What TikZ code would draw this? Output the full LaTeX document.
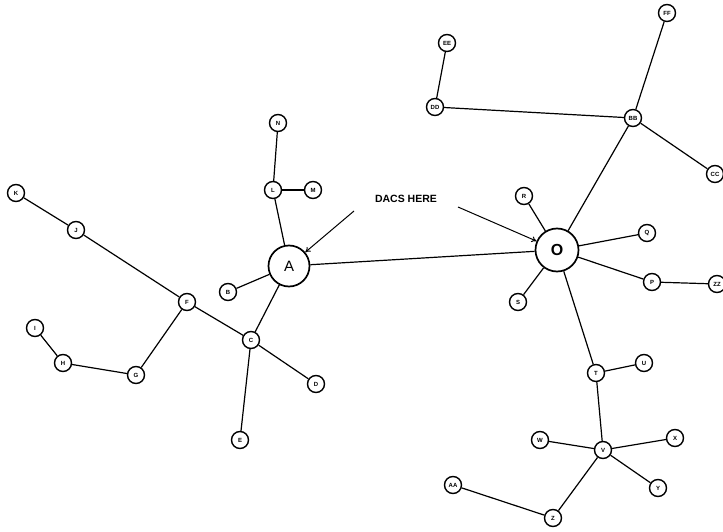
\documentclass[tikz,border=0pt]{standalone}
\usepackage{fontspec}
\setmainfont{Liberation Sans}
\setsansfont{Liberation Sans}
\usetikzlibrary{arrows.meta}
\tikzset{
  sn/.style={circle, draw, line width=1.4pt, minimum size=17pt, inner sep=0pt, fill=white, font=\bfseries\fontsize{6}{6}\selectfont},
  bn/.style={circle, draw, line width=1.7pt, minimum size=41pt, inner sep=0pt, fill=white, font=\fontsize{15}{15}\selectfont},
  edge/.style={line width=1.2pt},
  arr/.style={line width=1pt, -{To[length=5pt,width=6pt]}},
}
\begin{document}
\begin{tikzpicture}[x=1pt,y=-1pt]
\useasboundingbox (0,0) rectangle (723,532);
% big nodes
\node[bn] (A) at (289,266) {A};
\node[bn, minimum size=43pt, font=\bfseries\fontsize{16}{16}\selectfont] (O) at (557,250) {O};
% small nodes
\node[sn] (B) at (228,292) {B};
\node[sn] (C) at (251,340) {C};
\node[sn] (D) at (316,384) {D};
\node[sn] (E) at (240,440) {E};
\node[sn] (F) at (187,302) {F};
\node[sn] (G) at (136,375) {G};
\node[sn] (H) at (63,363) {H};
\node[sn] (I) at (35,328) {I};
\node[sn] (J) at (76,230) {J};
\node[sn] (K) at (16,193) {K};
\node[sn] (L) at (273,190) {L};
\node[sn] (M) at (313,190) {M};
\node[sn] (N) at (278,123) {N};
\node[sn] (P) at (652,282) {P};
\node[sn] (Q) at (647,233) {Q};
\node[sn] (R) at (524,196) {R};
\node[sn] (S) at (518,302) {S};
\node[sn] (T) at (596,373) {T};
\node[sn] (U) at (644,363) {U};
\node[sn] (V) at (603,450) {V};
\node[sn] (W) at (540,440) {W};
\node[sn] (X) at (675,438) {X};
\node[sn] (Y) at (658,488) {Y};
\node[sn] (Z) at (553,518) {Z};
\node[sn] (AA) at (453,485) {AA};
\node[sn] (BB) at (633,118) {BB};
\node[sn] (CC) at (715,174) {CC};
\node[sn] (DD) at (435,107) {DD};
\node[sn] (EE) at (447,43) {EE};
\node[sn] (FF) at (667,13) {FF};
\node[sn] (ZZ) at (717,284) {ZZ};
% edges
\draw[edge] (K) -- (J);
\draw[edge] (J) -- (F);
\draw[edge] (F) -- (C);
\draw[edge] (F) -- (G);
\draw[edge] (G) -- (H);
\draw[edge] (H) -- (I);
\draw[edge] (C) -- (A);
\draw[edge] (C) -- (D);
\draw[edge] (C) -- (E);
\draw[edge] (A) -- (B);
\draw[edge] (A) -- (L);
\draw[edge] (L) -- (N);
\draw[edge] (L) -- (M);
\draw[edge] (A) -- (O);
\draw[edge] (O) -- (R);
\draw[edge] (O) -- (S);
\draw[edge] (O) -- (Q);
\draw[edge] (O) -- (P);
\draw[edge] (P) -- (ZZ);
\draw[edge] (O) -- (BB);
\draw[edge] (BB) -- (FF);
\draw[edge] (BB) -- (CC);
\draw[edge] (BB) -- (DD);
\draw[edge] (DD) -- (EE);
\draw[edge] (O) -- (T);
\draw[edge] (T) -- (U);
\draw[edge] (T) -- (V);
\draw[edge] (V) -- (W);
\draw[edge] (V) -- (X);
\draw[edge] (V) -- (Y);
\draw[edge] (V) -- (Z);
\draw[edge] (Z) -- (AA);
% label and arrows
\node[font=\bfseries\fontsize{10.5}{10.5}\selectfont, inner sep=1pt] (dacs) at (406,199) {DACS HERE};
\coordinate (a1) at (354,211);
\coordinate (a2) at (458,207);
\draw[arr] (a1) -- (A);
\draw[arr] (a2) -- (O);
\end{tikzpicture}
\end{document}
